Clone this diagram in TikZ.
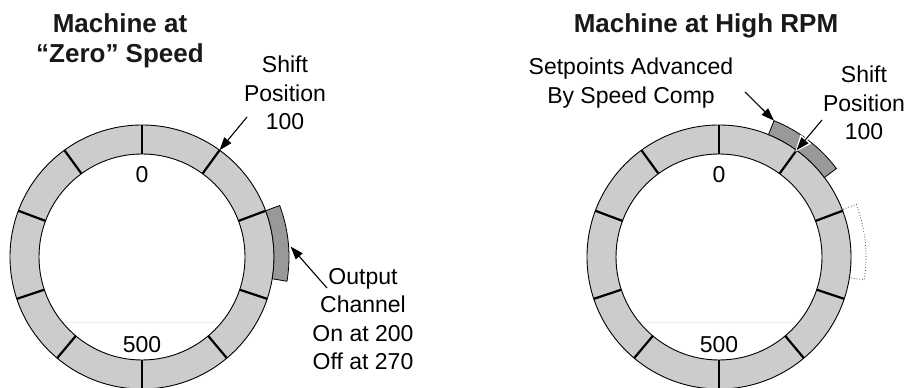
\documentclass[tikz,border=0pt]{standalone}
\usepackage{fontspec}
\setmainfont{Liberation Sans}
\usetikzlibrary{arrows.meta,calc}
\definecolor{ringfill}{HTML}{CCCCCC}
\definecolor{chanfill}{HTML}{999999}
\begin{document}
\begin{tikzpicture}[x=1pt,y=1pt,
  outl/.style={line width=0.9pt},
  tickst/.style={line width=2.2pt},
  chan/.style={fill=chanfill, draw=black, line width=0.8pt},
  ghost/.style={draw=black!75, dotted, line width=0.8pt},
  lbl/.style={inner sep=0pt, font=\fontsize{23}{28.5}\selectfont, align=center},
  ttl/.style={inner sep=0pt, font=\fontsize{26}{30}\selectfont\bfseries, align=center, text=black!90},
  arr/.style={line width=1.1pt, -{Triangle[length=13pt,width=9pt]}},
]
\useasboundingbox (0,0) rectangle (918,388);

\coordinate (cL) at (142,131);
\coordinate (cR) at (719,131);

% faint chords
\draw[black!7, line width=0.6pt] (62,66) -- (222,66);
\draw[black!7, line width=0.6pt] (639,66) -- (799,66);

% dotted original position (right)
\draw[ghost, shift={(cR)}] (-9:132pt) arc[start angle=-9, end angle=21, radius=132pt]
  -- (21:147pt) arc[start angle=21, end angle=-9, radius=147pt] -- cycle;

% rings
\foreach \c in {cL,cR}{
  \fill[ringfill, even odd rule] (\c) circle[radius=132pt] (\c) circle[radius=103pt];
  \draw[outl] (\c) circle[radius=132pt] (\c) circle[radius=103pt];
  \foreach \a in {90,54,20.5,-18.5,-50,-90,-130,-161.5,159.5,126}
    \draw[tickst, shift={(\c)}] (\a:103pt) -- (\a:132pt);
}

% output channel (left)
\draw[chan, shift={(cL)}] (-9.5:132pt) arc[start angle=-9.5, end angle=20.5, radius=132pt]
  -- (20.5:147pt) arc[start angle=20.5, end angle=-9.5, radius=147pt] -- cycle;

% advanced setpoints (right)
\draw[chan, shift={(cR)}] (37:132pt) arc[start angle=37, end angle=68, radius=132pt]
  -- (68:147pt) arc[start angle=68, end angle=37, radius=147pt] -- cycle;

% texts
\node[ttl, anchor=north] (titleL) at (120,375) {Machine at\\“Zero” Speed};
\node[ttl, anchor=north] (titleR) at (706,375) {Machine at High RPM};
\node[lbl, anchor=north] (shiftL) at (285,332) {Shift\\Position\\100};
\node[lbl, anchor=base] (zeroL) at (142,205) {0};
\node[lbl, anchor=base] (fiveL) at (142,35) {500};
\node[lbl, anchor=north] (outL) at (363,120) {Output\\Channel\\On at 200\\Off at 270};
\node[lbl, anchor=north] (setR) at (631,330) {Setpoints Advanced\\By Speed Comp};
\node[lbl, anchor=north] (shiftR) at (864,322) {Shift\\Position\\100};
\node[lbl, anchor=base] (zeroR) at (719,205) {0};
\node[lbl, anchor=base] (fiveR) at (719,35) {500};

% arrow endpoints
\coordinate (sLs) at (247,271);
\coordinate (sLt) at ($(cL)+(54:132pt)$);
\coordinate (oS) at (327,100);
\coordinate (oT) at ($(cL)+(4:149pt)$);
\coordinate (aS) at (745,296);
\coordinate (aT) at ($(cR)+(68:147pt)$);
\coordinate (sRs) at (822,268);
\coordinate (sRt) at ($(cR)+(54:132pt)$);

\draw[arr] (sLs) -- (sLt);
\draw[arr] (oS) -- (oT);
\draw[arr] (aS) -- (aT);
\draw[line width=3.5pt, white, -{Triangle[length=17pt,width=13pt]}, shorten >=-2.5pt] (sRs) -- (sRt);
\draw[arr] (sRs) -- (sRt);
\end{tikzpicture}
\end{document}
